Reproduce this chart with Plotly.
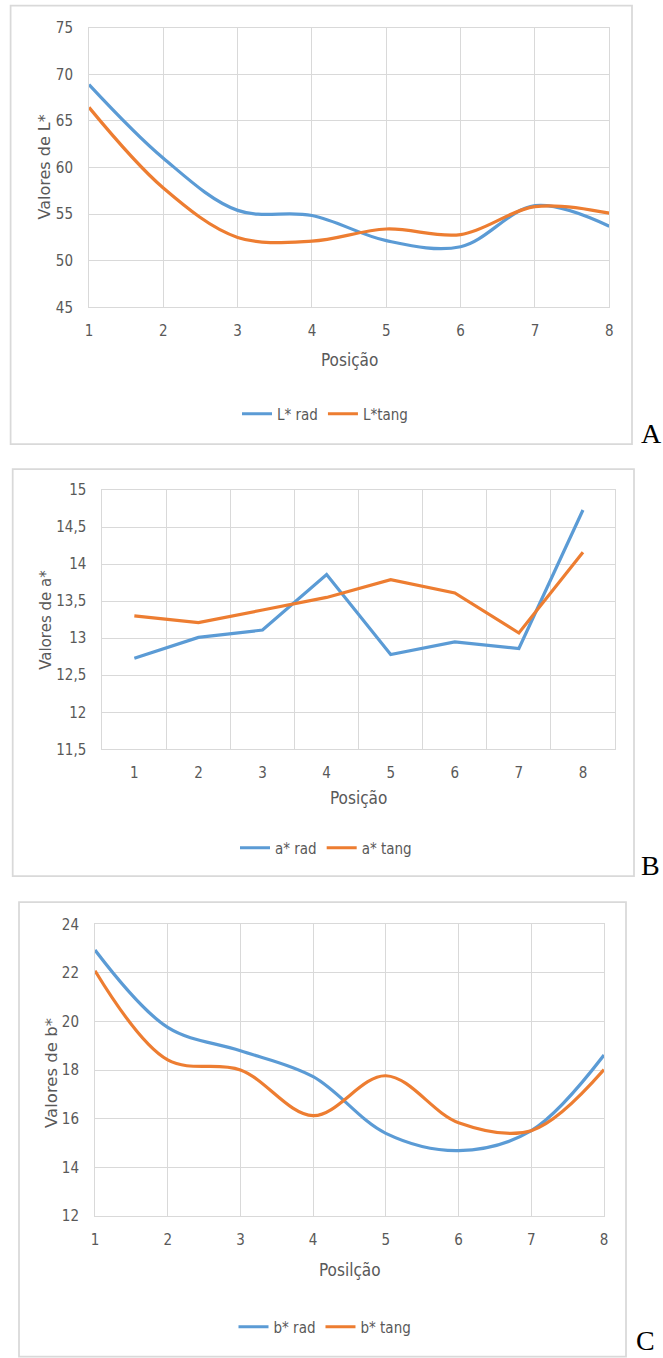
import plotly.graph_objects as go

W, H = 663, 1358

# ---------------- data ----------------
posicao = [1, 2, 3, 4, 5, 6, 7, 8]
L_rad = [68.9, 61.0, 55.4, 54.85, 52.15, 51.5, 55.9, 53.7]
L_tang = [66.45, 57.8, 52.5, 52.1, 53.4, 52.8, 55.8, 55.1]
a_rad = [12.73, 13.01, 13.11, 13.86, 12.78, 12.95, 12.86, 14.73]
a_tang = [13.30, 13.21, 13.38, 13.55, 13.79, 13.61, 13.07, 14.16]
b_rad = [22.94, 19.76, 18.80, 17.73, 15.40, 14.69, 15.51, 18.62]
b_tang = [22.09, 18.42, 18.01, 16.13, 17.77, 15.84, 15.51, 18.02]

names_L = ["L* rad", "L*tang"]
names_a = ["a* rad", "a* tang"]
names_b = ["b* rad", "b* tang"]
y_titles = ["Valores de L*", "Valores de a*", "Valores de b*"]
x_titles = ["Posição", "Posição", "Posilção"]
letters = ["A", "B", "C"]

BLUE = "#5B9BD5"
ORANGE = "#ED7D31"
GRID = "#D9D9D9"
TXT = "#595959"
NARROW = "Liberation Sans Narrow, Arial Narrow, DejaVu Sans Condensed, sans-serif"


def px(x):
    return x / W


def py(y):
    return 1 - y / H


# panel geometry (pixels)
panels = [
    dict(plot=(89, 609.3, 27.7, 307.3), box=(10.6, 632, 5.7, 444),
         ytitle=(44, 167.5, 16), xtitle=(349, 360), leg=(325, 414),
         letter=(651, 434)),
    dict(plot=(102.3, 615, 490, 749.3), box=(12.7, 634, 469, 876),
         ytitle=(46.5, 620.3, 15), xtitle=(358.6, 798), leg=(326, 848),
         letter=(650, 866)),
    dict(plot=(95, 604, 924.3, 1216), box=(19, 626, 902, 1356.5),
         ytitle=(51.4, 1072.5, 16.5), xtitle=(350, 1270), leg=(325, 1327),
         letter=(645, 1340)),
]

fig = go.Figure()

series = [
    (L_rad, L_tang, names_L, "spline"),
    (a_rad, a_tang, names_a, "linear"),
    (b_rad, b_tang, names_b, "spline"),
]

for i, (s1, s2, nm, shape) in enumerate(series):
    sfx = "" if i == 0 else str(i + 1)
    for vals, name, col in [(s1, nm[0], BLUE), (s2, nm[1], ORANGE)]:
        line = dict(color=col, width=3.2, shape=shape)
        if shape == "spline":
            line["smoothing"] = 1.0
        fig.add_trace(go.Scatter(
            x=posicao, y=vals, mode="lines", name=name, line=line,
            xaxis="x" + sfx, yaxis="y" + sfx, legend="legend" + sfx,
            hoverinfo="skip"))

layout = dict(
    width=W, height=H,
    margin=dict(l=0, r=0, t=0, b=0, pad=0, autoexpand=False),
    paper_bgcolor="white", plot_bgcolor="white",
    showlegend=True,
)

yranges = [(45, 75, 5), (11.5, 15, 0.5), (12, 24, 2)]
shapes = []
annotations = []

for i, p in enumerate(panels):
    sfx = "" if i == 0 else str(i + 1)
    x0, x1, yt, yb = p["plot"]
    xa = dict(domain=[px(x0), px(x1)], anchor="y" + sfx, automargin=False,
              showline=True, linecolor=GRID, linewidth=1, mirror=True,
              gridcolor=GRID, gridwidth=1, zeroline=False,
              tickfont=dict(family=NARROW, size=15, color=TXT),
              ticks="", ticklabelstandoff=10, fixedrange=True)
    if i == 1:
        xa.update(range=[0.5, 8.5], tickvals=posicao, showgrid=False,
                  minor=dict(tickvals=[k + 0.5 for k in range(0, 9)],
                             showgrid=True, gridcolor=GRID, gridwidth=1, ticks=""))
    else:
        xa.update(range=[1, 8], tickvals=posicao, showgrid=True)
    lo, hi, dt = yranges[i]
    n = int(round((hi - lo) / dt))
    yv = [lo + k * dt for k in range(n + 1)]
    if i == 1:
        yt_text = [("%g" % v).replace(".", ",") for v in yv]
    else:
        yt_text = ["%g" % v for v in yv]
    ya = dict(domain=[py(yb), py(yt)], anchor="x" + sfx, range=[lo, hi],
              automargin=False, tickvals=yv, ticktext=yt_text,
              showline=True, linecolor=GRID, linewidth=1, mirror=True,
              showgrid=True, gridcolor=GRID, gridwidth=1, zeroline=False,
              tickfont=dict(family=NARROW, size=15, color=TXT),
              ticks="", ticklabelstandoff=12, fixedrange=True)
    layout["xaxis" + sfx] = xa
    layout["yaxis" + sfx] = ya

    lx, ly = p["leg"]
    layout["legend" + sfx] = dict(
        orientation="h", x=px(lx), y=py(ly), xanchor="center", yanchor="middle",
        font=dict(family=NARROW, size=15, color=TXT), bgcolor="rgba(0,0,0,0)",
        itemwidth=30, tracegroupgap=0)

    bx0, bx1, by0, by1 = p["box"]
    shapes.append(dict(type="rect", xref="paper", yref="paper",
                       x0=px(bx0), x1=px(bx1), y0=py(by1), y1=py(by0),
                       line=dict(color=GRID, width=1.75), fillcolor="rgba(0,0,0,0)"))

    tx, ty, tsz = p["ytitle"]
    annotations.append(dict(text=y_titles[i], xref="paper", yref="paper",
                            x=px(tx), y=py(ty), showarrow=False, textangle=-90,
                            xanchor="center", yanchor="middle",
                            font=dict(family="DejaVu Sans, Verdana, sans-serif",
                                      size=tsz, color=TXT)))
    xx, xy = p["xtitle"]
    annotations.append(dict(text=x_titles[i], xref="paper", yref="paper",
                            x=px(xx), y=py(xy), showarrow=False,
                            xanchor="center", yanchor="middle",
                            font=dict(family=NARROW, size=17, color=TXT)))
    lx2, ly2 = p["letter"]
    annotations.append(dict(text=letters[i], xref="paper", yref="paper",
                            x=px(lx2), y=py(ly2), showarrow=False,
                            xanchor="center", yanchor="middle",
                            font=dict(family="Liberation Serif, Times New Roman, serif",
                                      size=28, color="black")))

layout["shapes"] = shapes
layout["annotations"] = annotations
fig.update_layout(**layout)

fig.write_html("out.html",
               config={"displayModeBar": False, "staticPlot": True},
               post_script="document.body.style.margin='0';"
                           "document.body.style.overflow='hidden';")
